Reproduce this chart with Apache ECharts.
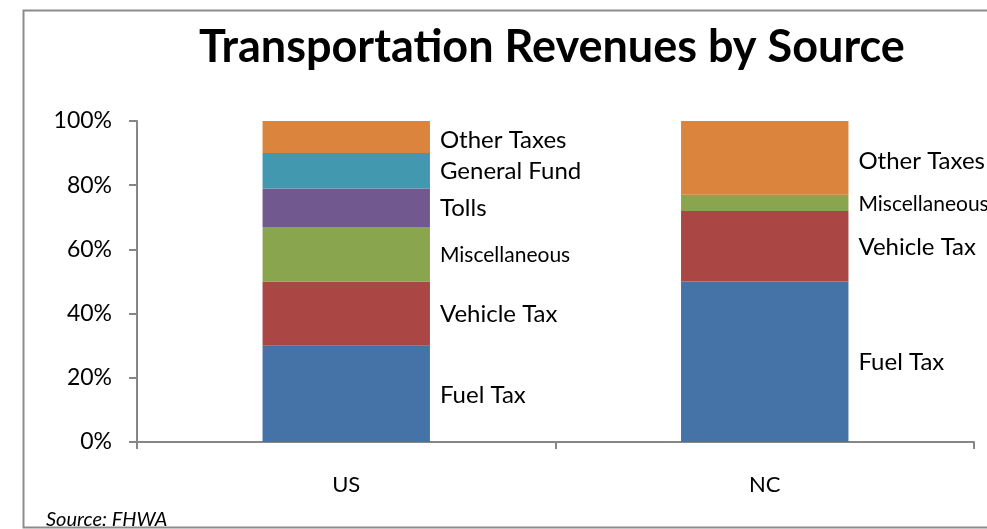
<!DOCTYPE html>
<html>
<head>
<meta charset="utf-8">
<script src="https://cdn.jsdelivr.net/npm/echarts@6/dist/echarts.min.js"></script>
<style>
	html, body { margin: 0; padding: 0; background: #fff; }
	#main { width: 987px; height: 529px; }
</style>
</head>
<body>
<div id="main"></div>
<script>
// 数据
const regions = ['US', 'NC']
const sources = ['Fuel Tax', 'Vehicle Tax', 'Miscellaneous', 'Tolls', 'General Fund', 'Other Taxes']
const fuelTax = [30, 50]
const vehicleTax = [20, 22]
const miscellaneous = [17, 5]
const tolls = [12, 0]
const generalFund = [11, 0]
const otherTaxes = [10, 23]
const yTicks = ['0%', '20%', '40%', '60%', '80%', '100%']

const colors = ['#4572A7', '#AA4643', '#89A54E', '#71588F', '#4198AF', '#DB843D']
const values = [fuelTax, vehicleTax, miscellaneous, tolls, generalFund, otherTaxes]
const font = 'Lato, "Open Sans", sans-serif'

echarts.init(document.getElementById('main')).setOption({
	animation: false,
	textStyle: { fontFamily: font },
	title: [
		{
			text: 'Transportation Revenues by Source',
			left: 194,
			top: 20,
			textStyle: { fontSize: 45, fontWeight: 'bold', color: '#000', fontFamily: font }
		},
		{
			text: 'Source: FHWA',
			left: 41,
			top: 505,
			textStyle: { fontSize: 20, fontStyle: 'italic', fontWeight: 'normal', color: '#000', fontFamily: font }
		}
	],
	graphic: [{
		type: 'rect',
		shape: { x: 23.5, y: 10.5, width: 1000, height: 517 },
		style: { fill: 'none', stroke: '#8c8c8c', lineWidth: 2 },
		z: 100
	}],
	grid: { left: 137, right: 13, top: 121, bottom: 87 },
	xAxis: {
		type: 'category',
		data: regions,
		axisLine: { lineStyle: { color: '#868686', width: 2 } },
		axisTick: { show: true, length: 7, lineStyle: { color: '#868686', width: 2 } },
		axisLabel: { fontSize: 22, color: '#000', margin: 32 }
	},
	yAxis: {
		type: 'value',
		min: 0,
		max: 100,
		interval: 20,
		axisLine: { show: true, lineStyle: { color: '#868686', width: 2 } },
		axisTick: { show: true, length: 8, lineStyle: { color: '#868686', width: 2 } },
		splitLine: { show: false },
		axisLabel: {
			fontSize: 23,
			color: '#000',
			margin: 25,
			formatter: v => yTicks[v / 20]
		}
	},
	series: sources.map((name, i) => ({
		type: 'bar',
		name: name,
		stack: 'total',
		barWidth: '40%',
		itemStyle: { color: colors[i] },
		label: {
			show: true,
			position: 'right',
			distance: 10,
			color: '#000',
			fontSize: name === 'Miscellaneous' ? 21 : 24,
			offset: name === 'Other Taxes' ? [0, 3] : [0, 1],
			formatter: p => p.value > 0 ? name : ''
		},
		data: values[i]
	}))
})
</script>
</body>
</html>
